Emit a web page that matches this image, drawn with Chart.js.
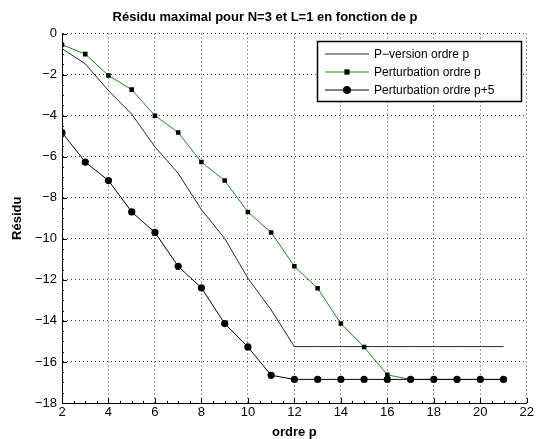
<!DOCTYPE html>
<html>
<head>
<meta charset="utf-8">
<script src="https://cdn.jsdelivr.net/npm/chart.js"></script>
<style>
  html, body { margin: 0; padding: 0; background: #fff; }
  #wrap { width: 536px; height: 439px; }
</style>
</head>
<body>
<div id="wrap"><canvas id="c" width="536" height="439"></canvas></div>
<script>
// values
const orders = [2, 3, 4, 5, 6, 7, 8, 9, 10, 11, 12, 13, 14, 15, 16, 17, 18, 19, 20, 21];
const pVersion = [-0.73, -1.47, -2.78, -3.92, -5.52, -6.81, -8.58, -9.98, -11.92, -13.46,
  -15.25, -15.25, -15.25, -15.25, -15.25, -15.25, -15.25, -15.25, -15.25, -15.25];
const pertP = [-0.54, -1.0, -2.04, -2.73, -4.0, -4.82, -6.26, -7.16, -8.69, -9.69,
  -11.34, -12.41, -14.13, -15.27, -16.63, -16.85, -16.85, -16.85, -16.85, -16.85];
const pertP5 = [-4.82, -6.26, -7.16, -8.69, -9.69, -11.34, -12.39, -14.13, -15.27, -16.65,
  -16.85, -16.85, -16.85, -16.85, -16.85, -16.85, -16.85, -16.85, -16.85, -16.85];
const seriesNames = ['P\u2212version ordre p', 'Perturbation ordre p', 'Perturbation ordre p+5'];
const xTicks = [2, 4, 6, 8, 10, 12, 14, 16, 18, 20, 22];
const yTicks = [0, -2, -4, -6, -8, -10, -12, -14, -16, -18];

const FONT = "'Liberation Sans', Arial, Helvetica, sans-serif";

function pts(ys) {
  return orders.map((x, i) => ({ x, y: ys[i] }));
}

const minus = (v) => String(v).replace('-', '\u2212');

// MATLAB-like inward ticks on the left and bottom axes
const axisTicks = {
  id: 'axisTicks',
  afterDraw(chart) {
    const { ctx, chartArea: a, scales } = chart;
    ctx.save();
    ctx.strokeStyle = '#000';
    ctx.lineWidth = 1;
    ctx.beginPath();
    for (let v = 2; v <= 22.001; v += 0.5) {
      const px = Math.round(scales.x.getPixelForValue(v)) + 0.5;
      const len = Math.abs(v % 2) < 0.01 ? 5 : 2;
      ctx.moveTo(px, a.bottom);
      ctx.lineTo(px, a.bottom - len);
    }
    for (let v = -18; v <= 0.001; v += 0.5) {
      const py = Math.round(scales.y.getPixelForValue(v)) + 0.5;
      const len = Math.abs(v % 2) < 0.01 ? 5 : 2;
      ctx.moveTo(a.left, py);
      ctx.lineTo(a.left + len, py);
    }
    ctx.stroke();
    ctx.restore();
  }
};

// boxed legend in the upper right corner of the axes
const boxLegend = {
  id: 'boxLegend',
  afterDraw(chart) {
    const { ctx } = chart;
    const left = 317, top = 41, w = 204, h = 60;
    ctx.save();
    ctx.fillStyle = '#fff';
    ctx.fillRect(left, top, w, h);
    ctx.strokeStyle = '#000';
    ctx.lineWidth = 1.5;
    ctx.strokeRect(left + 0.5, top + 0.5, w, h);
    ctx.font = '12px ' + FONT;
    ctx.textBaseline = 'middle';
    chart.data.datasets.forEach((ds, i) => {
      const y = top + 13 + i * 18;
      ctx.strokeStyle = ds.borderColor;
      ctx.lineWidth = ds.borderWidth;
      ctx.beginPath();
      ctx.moveTo(left + 8, y);
      ctx.lineTo(left + 52, y);
      ctx.stroke();
      if (ds.pointRadius > 0) {
        Chart.helpers.drawPoint(ctx, {
          pointStyle: ds.pointStyle,
          radius: ds.pointRadius,
          borderWidth: 1,
        }, left + 30, y);
        ctx.fillStyle = ds.pointBackgroundColor;
        ctx.fill();
      }
      ctx.fillStyle = '#000';
      ctx.fillText(ds.label, left + 57, y + 1);
    });
    ctx.restore();
  }
};

const gridCfg = {
  color: 'rgba(0,0,0,0.75)',
  lineWidth: 1,
  drawTicks: false,
};
const borderCfg = { display: true, color: '#000', width: 1, dash: [1, 3] };

new Chart(document.getElementById('c'), {
  type: 'line',
  data: {
    datasets: [
      {
        label: seriesNames[0],
        data: pts(pVersion),
        borderColor: '#2a2a2a',
        borderWidth: 1,
        pointRadius: 0,
        order: 3,
      },
      {
        label: seriesNames[1],
        data: pts(pertP),
        borderColor: '#1a8a1a',
        borderWidth: 1,
        pointStyle: 'rect',
        pointRadius: 3.2,
        pointBackgroundColor: '#000',
        pointBorderColor: '#000',
        pointBorderWidth: 0,
        order: 2,
      },
      {
        label: seriesNames[2],
        data: pts(pertP5),
        borderColor: '#000',
        borderWidth: 1,
        pointStyle: 'circle',
        pointRadius: 3.6,
        pointBackgroundColor: '#000',
        pointBorderColor: '#000',
        pointBorderWidth: 0,
        order: 1,
      },
    ],
  },
  options: {
    responsive: false,
    animation: false,
    events: [],
    layout: { padding: { left: 0, right: 6, top: 0, bottom: 0 } },
    plugins: {
      legend: { display: false },
      tooltip: { enabled: false },
      title: {
        display: true,
        text: 'R\u00e9sidu maximal pour N=3 et L=1 en fonction de p',
        color: '#000',
        font: { family: FONT, size: 13, weight: 'bold' },
        padding: { top: 10, bottom: 8 },
      },
    },
    scales: {
      x: {
        type: 'linear',
        min: 2,
        max: 22,
        afterBuildTicks: (s) => { s.ticks = xTicks.map((v) => ({ value: v })); },
        afterFit: (s) => { s.height = 36; },
        ticks: {
          color: '#000',
          font: { family: FONT, size: 13 },
          padding: 2,
          maxRotation: 0,
          callback: (v) => minus(v),
        },
        grid: gridCfg,
        border: borderCfg,
        title: {
          display: true,
          text: 'ordre p',
          color: '#000',
          font: { family: FONT, size: 13, weight: 'bold' },
          padding: { top: 0, bottom: -1 },
        },
      },
      y: {
        type: 'linear',
        min: -18,
        max: 0,
        afterBuildTicks: (s) => { s.ticks = yTicks.map((v) => ({ value: v })); },
        afterFit: (s) => { s.width = 62; },
        ticks: {
          color: '#000',
          font: { family: FONT, size: 13 },
          padding: 5,
          callback: (v) => minus(v),
        },
        grid: gridCfg,
        border: borderCfg,
        title: {
          display: true,
          text: 'R\u00e9sidu',
          color: '#000',
          font: { family: FONT, size: 13, weight: 'bold' },
          padding: { top: 10, bottom: 0 },
        },
      },
    },
  },
  plugins: [axisTicks, boxLegend],
});
</script>
</body>
</html>
